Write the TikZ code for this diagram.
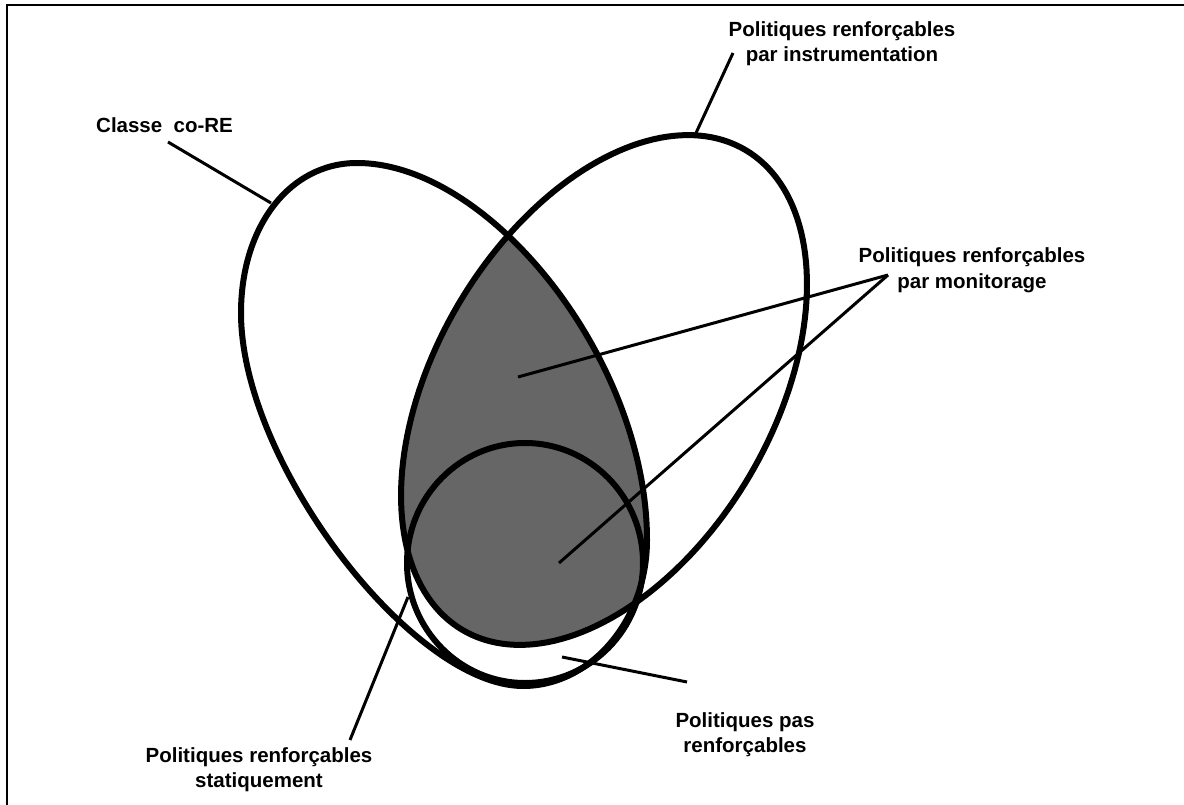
\documentclass[tikz,border=0pt]{standalone}
\usepackage{fontspec}
\setmainfont{Liberation Sans}
\definecolor{fillgrey}{HTML}{666666}
\begin{document}
\begin{tikzpicture}[x=1pt,y=-1pt,
  outline/.style={line width=6pt, line join=round},
  leader/.style={line width=3pt},
  lbl/.style={font=\bfseries\fontsize{20.5}{25}\selectfont, align=center, inner sep=0pt},
  frame/.style={line width=2pt}]
\useasboundingbox (0,0) rectangle (1184,805);
\def\coREpath{(357,163) .. controls (290,163) and (241,226) .. (241,313) .. controls (241,463) and (413,686) .. (523,686) .. controls (591,686) and (647,620) .. (647,540) .. controls (647,360) and (490,163) .. (357,163) -- cycle}
\def\instrpath{plot[domain=0:360, samples=181, variable=\t] ({604+278.6*cos(\t)*cos(59.5)+169*sin(\t)*sin(59.5)},{390-278.6*cos(\t)*sin(59.5)+169*sin(\t)*cos(59.5)}) -- cycle}
% frame
\draw[frame] (7,805) -- (7,5) -- (1184,5);
% grey intersection
\begin{scope}
\clip \coREpath;
\fill[fillgrey] \instrpath;
\end{scope}
% outlines
\draw[outline] \coREpath;
\draw[outline] \instrpath;
\draw[outline] (525,563) ellipse [x radius=118, y radius=120];
% labels
\node[lbl, anchor=base west] (core) at (96,133) {Classe\ \ co-RE};
\node[lbl, anchor=base] (instr) at (842,62) {Politiques renforçables\\par instrumentation};
\node[lbl, anchor=base] (moni) at (972,288) {Politiques renforçables\\par monitorage};
\node[lbl, anchor=base] (pas) at (745,752) {Politiques pas\\renforçables};
\node[lbl, anchor=base] (stat) at (259,787) {Politiques renforçables\\statiquement};
% leader ends
\coordinate (core-a) at (168,142);
\coordinate (core-b) at (271,203);
\coordinate (instr-a) at (733,53);
\coordinate (instr-b) at (696,133);
\coordinate (moni-a) at (888,275);
\coordinate (moni-b) at (518,377);
\coordinate (moni-c) at (559,563);
\coordinate (pas-a) at (687,682);
\coordinate (pas-b) at (562,657);
\coordinate (stat-a) at (350,740);
\coordinate (stat-b) at (408,597);
\draw[leader] (core-a) -- (core-b);
\draw[leader] (instr-a) -- (instr-b);
\draw[leader] (moni-a) -- (moni-b);
\draw[leader] (moni-a) -- (moni-c);
\draw[leader] (pas-a) -- (pas-b);
\draw[leader] (stat-a) -- (stat-b);
\end{tikzpicture}
\end{document}
